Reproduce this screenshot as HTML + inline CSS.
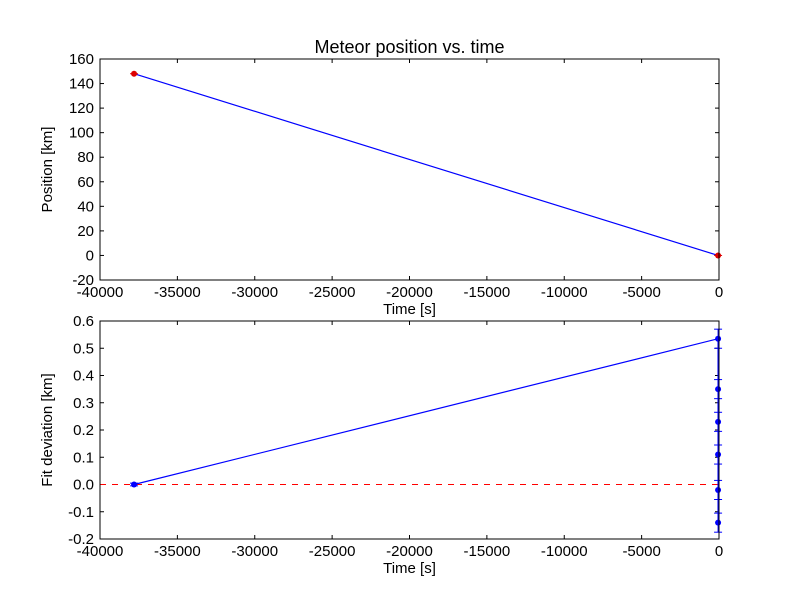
<!DOCTYPE html>
<html><head><meta charset="utf-8"><style>body{margin:0;background:#fff}svg{display:block;font-family:"Liberation Sans",sans-serif}</style></head>
<body>
<svg id="c" width="800" height="600"></svg>
<script>
const topTimes=[-37800,-60];
const topPos=[148,0];
const botTimes=[-37800,-60,-60,-60,-60,-60,-60];
const botDev=[0,0.535,0.35,0.23,0.11,-0.02,-0.14];
const botErr=[0.005,0.035,0.035,0.035,0.035,0.035,0.035];
const xTicks=[-40000,-35000,-30000,-25000,-20000,-15000,-10000,-5000,0];
const topYTicks=[-20,0,20,40,60,80,100,120,140,160];
const botYTicks=[-0.2,-0.1,0.0,0.1,0.2,0.3,0.4,0.5,0.6];
const NS="http://www.w3.org/2000/svg";
const svg=document.getElementById('c');
function mk(t,a,p){const e=document.createElementNS(NS,t);for(const k in a)e.setAttribute(k,a[k]);(p||svg).appendChild(e);return e;}
const L=100,R=719;
const sx=v=>L+(v+40000)/40000*(R-L);
function axes(top,bot,ymin,ymax,yt,fmt,ylab,name){
 const sy=v=>bot-(v-ymin)/(ymax-ymin)*(bot-top);
 const g=mk('g',{});
 
 
 xTicks.forEach(v=>{const x=sx(v);
  mk('line',{x1:x,x2:x,y1:bot,y2:bot-4,stroke:'#000'},g);mk('line',{x1:x,x2:x,y1:top,y2:top+4,stroke:'#000'},g);
  const t=mk('text',{x:x,y:bot+17,'text-anchor':'middle','font-size':15},g);t.textContent=v;
  });
 yt.forEach(v=>{const y=sy(v);
  mk('line',{x1:L,x2:L+4,y1:y,y2:y,stroke:'#000'},g);mk('line',{x1:R,x2:R-4,y1:y,y2:y,stroke:'#000'},g);
  const t=mk('text',{x:L-6,y:y+5,'text-anchor':'end','font-size':15},g);t.textContent=fmt(v);
  });
 const xl=mk('text',{x:(L+R)/2,y:bot+34,'text-anchor':'middle','font-size':15},g);xl.textContent='Time [s]';
 
 const yl=mk('text',{x:0,y:0,'text-anchor':'middle','font-size':15,transform:`translate(52,${(top+bot)/2}) rotate(-90)`},g);yl.textContent=ylab;
 
 return sy;
}
const sy1=axes(59,280,-20,160,topYTicks,v=>v,'Position [km]','top-axes');
const p1=mk('polyline',{points:topTimes.map((t,i)=>sx(t)+','+sy1(topPos[i])).join(' '),fill:'none',stroke:'#00f','stroke-width':1.2});

topTimes.forEach((t,i)=>{const c=mk('circle',{cx:sx(t),cy:sy1(topPos[i]),r:3,fill:'#d00'});
 
 mk('line',{x1:sx(t)-4,x2:sx(t)+4,y1:sy1(topPos[i]),y2:sy1(topPos[i]),stroke:'#d00'});});
mk('rect',{x:L,y:59,width:R-L,height:221,fill:'none',stroke:'#000'});
const tt=mk('text',{x:(L+R)/2,y:53,'text-anchor':'middle','font-size':18});tt.textContent='Meteor position vs. time';

const sy2=axes(321,539,-0.2,0.6,botYTicks,v=>v.toFixed(1),'Fit deviation [km]','bottom-axes');
const z=mk('line',{x1:L,x2:R,y1:sy2(0),y2:sy2(0),stroke:'#f00','stroke-dasharray':'6,6'});

const p2=mk('polyline',{points:botTimes.map((t,i)=>sx(t)+','+sy2(botDev[i])).join(' '),fill:'none',stroke:'#00f','stroke-width':1.2});

botTimes.forEach((t,i)=>{const x=sx(t),y1=sy2(botDev[i]+botErr[i]),y2=sy2(botDev[i]-botErr[i]);
 const e=mk('line',{x1:x,x2:x,y1:y1,y2:y2,stroke:'#00f'});
 
 mk('line',{x1:x-4,x2:x+4,y1:y1,y2:y1,stroke:'#00f'});mk('line',{x1:x-4,x2:x+4,y1:y2,y2:y2,stroke:'#00f'});
 const c=mk('circle',{cx:x,cy:sy2(botDev[i]),r:3,fill:'#00f'});
 });
mk('rect',{x:L,y:321,width:R-L,height:218,fill:'none',stroke:'#000'});
</script>
</body></html>
